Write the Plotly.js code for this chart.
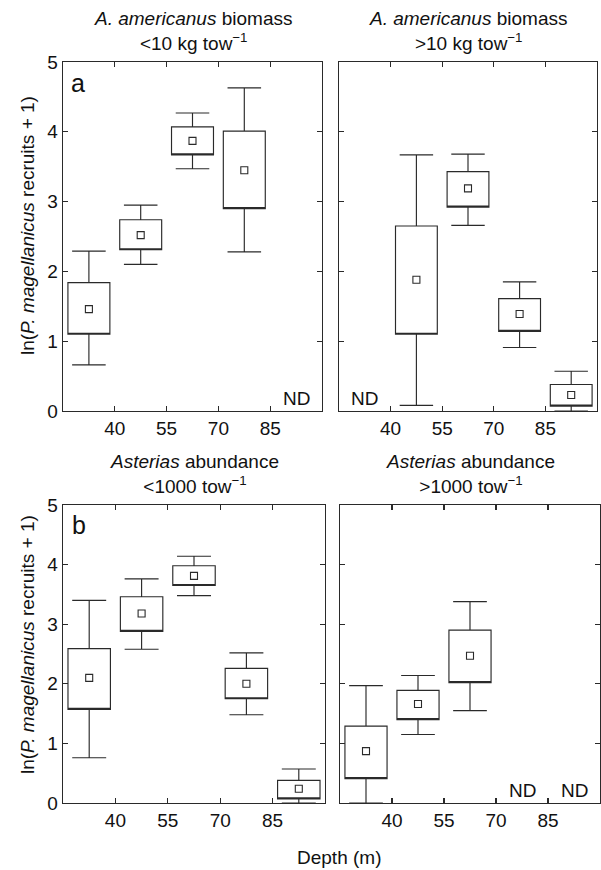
<!DOCTYPE html>
<html>
<head>
<meta charset="utf-8">
<script src="https://cdn.plot.ly/plotly-3.0.1.min.js"></script>
<style>
html,body{margin:0;padding:0;background:#fff;}
#chart{width:601px;height:870px;}
</style>
</head>
<body>
<div id="chart"></div>
<script>
// Depth bins (m): <40, 40-55, 55-70, 70-85, >85 -> positions 1..5
const depthBins = ["<40", "40–55", "55–70", "70–85", ">85"];
const depthTickVals = [1.5, 2.5, 3.5, 4.5];
const depthTickText = ["40", "55", "70", "85"];

// Panel a, left: A. americanus biomass <10 kg tow-1 (null = ND)
const aLowCenter = [1.46, 2.52, 3.87, 3.45, null];
const aLowQ1     = [1.10, 2.31, 3.67, 2.90, null];
const aLowQ3     = [1.84, 2.74, 4.07, 4.01, null];
const aLowMin    = [0.66, 2.10, 3.47, 2.28, null];
const aLowMax    = [2.29, 2.95, 4.27, 4.63, null];

// Panel a, right: A. americanus biomass >10 kg tow-1
const aHighCenter = [null, 1.88, 3.19, 1.39, 0.23];
const aHighQ1     = [null, 1.10, 2.92, 1.14, 0.07];
const aHighQ3     = [null, 2.65, 3.43, 1.61, 0.38];
const aHighMin    = [null, 0.08, 2.66, 0.91, 0.00];
const aHighMax    = [null, 3.67, 3.68, 1.85, 0.57];

// Panel b, left: Asterias abundance <1000 tow-1
const bLowCenter = [2.10, 3.18, 3.81, 2.00, 0.24];
const bLowQ1     = [1.57, 2.88, 3.65, 1.75, 0.07];
const bLowQ3     = [2.59, 3.46, 3.98, 2.26, 0.38];
const bLowMin    = [0.76, 2.58, 3.48, 1.48, 0.00];
const bLowMax    = [3.40, 3.76, 4.14, 2.52, 0.57];

// Panel b, right: Asterias abundance >1000 tow-1
const bHighCenter = [0.87, 1.66, 2.47, null, null];
const bHighQ1     = [0.41, 1.40, 2.02, null, null];
const bHighQ3     = [1.29, 1.89, 2.90, null, null];
const bHighMin    = [0.00, 1.15, 1.55, null, null];
const bHighMax    = [1.97, 2.14, 3.38, null, null];

const panelTitles = [
  "<i>A. americanus</i> biomass<br>&lt;10 kg tow<sup>−1</sup>",
  "<i>A. americanus</i> biomass<br>&gt;10 kg tow<sup>−1</sup>",
  "<i>Asterias</i> abundance<br>&lt;1000 tow<sup>−1</sup>",
  "<i>Asterias</i> abundance<br>&gt;1000 tow<sup>−1</sup>"
];
const panelLetters = ["a", "b"];
const yTitle = "ln(<i>P. magellanicus</i> recruits + 1)";
const xTitle = "Depth (m)";

const panels = [
  {center: aLowCenter,  q1: aLowQ1,  q3: aLowQ3,  lo: aLowMin,  hi: aLowMax},
  {center: aHighCenter, q1: aHighQ1, q3: aHighQ3, lo: aHighMin, hi: aHighMax},
  {center: bLowCenter,  q1: bLowQ1,  q3: bLowQ3,  lo: bLowMin,  hi: bLowMax},
  {center: bHighCenter, q1: bHighQ1, q3: bHighQ3, lo: bHighMin, hi: bHighMax}
];

const INK = "#2a2a2a";
const FONT = "Liberation Sans, Arial, sans-serif";
const FS = 19;
const traces = [];
const annotations = [];

panels.forEach((p, i) => {
  const xa = i === 0 ? "x" : "x" + (i + 1);
  const ya = i === 0 ? "y" : "y" + (i + 1);
  const xs = [], q1 = [], q3 = [], lo = [], hi = [], ctr = [];
  p.center.forEach((c, k) => {
    if (c === null) {
      annotations.push({xref: xa, yref: ya, x: k + 1, y: 0.0, yanchor: "bottom",
        text: "ND", showarrow: false, font: {family: FONT, size: FS, color: "#111"}});
      return;
    }
    xs.push(k + 1); q1.push(p.q1[k]); q3.push(p.q3[k]);
    lo.push(p.lo[k]); hi.push(p.hi[k]); ctr.push(c);
  });
  traces.push({
    type: "box", xaxis: xa, yaxis: ya, x: xs,
    q1: q1, median: q1, q3: q3, lowerfence: lo, upperfence: hi,
    width: 0.81, whiskerwidth: 0.8, fillcolor: "#ffffff",
    line: {color: INK, width: 1.15}, boxpoints: false, hoverinfo: "skip", showlegend: false
  });
  traces.push({
    type: "scatter", mode: "markers", xaxis: xa, yaxis: ya, x: xs, y: ctr,
    marker: {symbol: "square-open", size: 7, color: INK, line: {width: 1.1, color: INK}},
    hoverinfo: "skip", showlegend: false
  });
});

const xDomains = [[63/601, 322/601], [339/601, 597/601], [63/601, 325/601], [340/601, 600/601]];
const yTop = [1 - 411/870, 1 - 62/870];
const yBot = [1 - 803/870, 1 - 505/870];
const yDomains = [yTop, yTop, yBot, yBot];

const layout = {
  width: 601, height: 870,
  margin: {l: 0, r: 0, t: 0, b: 0},
  paper_bgcolor: "#fff", plot_bgcolor: "#fff",
  font: {family: FONT, size: FS, color: "#111"},
  showlegend: false,
  annotations: annotations
};

for (let i = 0; i < 4; i++) {
  const xk = i === 0 ? "xaxis" : "xaxis" + (i + 1);
  const yk = i === 0 ? "yaxis" : "yaxis" + (i + 1);
  const ya = i === 0 ? "y" : "y" + (i + 1);
  const xa = i === 0 ? "x" : "x" + (i + 1);
  layout[xk] = {
    domain: xDomains[i], anchor: ya, range: [0.5, 5.5],
    tickmode: "array", tickvals: depthTickVals, ticktext: depthTickText,
    ticks: "inside", ticklen: 5, tickwidth: 1.2, tickcolor: INK,
    showline: true, linecolor: INK, linewidth: 1.3, mirror: "allticks",
    showgrid: false, zeroline: false, fixedrange: true,
    tickfont: {family: FONT, size: FS, color: "#111"}
  };
  layout[yk] = {
    domain: yDomains[i], anchor: xa, range: [0, 5],
    tickvals: [0, 1, 2, 3, 4, 5],
    ticks: "inside", ticklen: 5, tickwidth: 1.2, tickcolor: INK,
    showline: true, linecolor: INK, linewidth: 1.3, mirror: "allticks",
    showgrid: false, zeroline: false, fixedrange: true,
    showticklabels: (i % 2 === 0),
    tickfont: {family: FONT, size: FS, color: "#111"}
  };
  const xc = (xDomains[i][0] + xDomains[i][1]) / 2;
  annotations.push({xref: "paper", yref: "paper", x: xc, y: yDomains[i][1] + 6/870,
    yanchor: "bottom", xanchor: "center", text: panelTitles[i], showarrow: false,
    font: {family: FONT, size: FS, color: "#111"}});
}

panelLetters.forEach((L, j) => {
  const xa = j === 0 ? "x" : "x3";
  const ya = j === 0 ? "y" : "y3";
  annotations.push({xref: xa + " domain", yref: ya + " domain", x: 0.025, y: 0.985,
    xanchor: "left", yanchor: "top", text: L, showarrow: false,
    font: {family: FONT, size: 25, color: "#111"}});
  annotations.push({xref: "paper", yref: ya + " domain", x: 27/601, y: 0.53,
    xanchor: "center", yanchor: "middle", textangle: -90, text: yTitle, showarrow: false,
    font: {family: FONT, size: FS, color: "#111"}});
});

annotations.push({xref: "paper", yref: "paper", x: 339/601, y: 1 - 857/870,
  xanchor: "center", yanchor: "middle", text: xTitle, showarrow: false,
  font: {family: FONT, size: FS, color: "#111"}});

Plotly.newPlot("chart", traces, layout, {staticPlot: true, displayModeBar: false});
</script>
</body>
</html>
